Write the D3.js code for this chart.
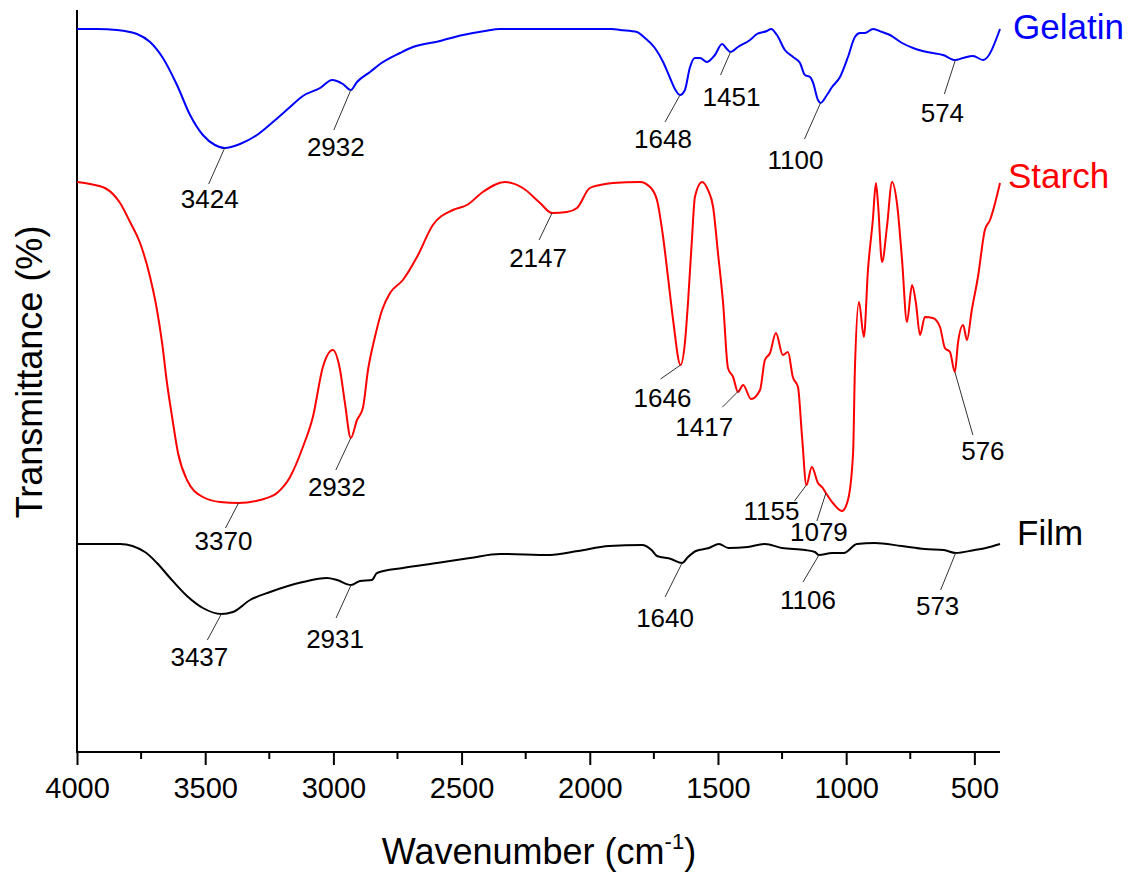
<!DOCTYPE html>
<html>
<head>
<meta charset="utf-8">
<script src="https://d3js.org/d3.v7.min.js"></script>
<style>
  body { margin: 0; background: #fff; }
  text { font-family: "Liberation Sans", Arial, sans-serif; }
</style>
</head>
<body>
<svg id="chart" width="1141" height="872"></svg>
<script>
// spectra: [wavenumber (cm-1), transmittance (offset, a.u.)]
const gelatin = [
  [4000, 72.3], [3922, 72.3], [3844, 72.2], [3766, 71.8], [3715, 71.0], [3665, 69.4],
  [3610, 66.7], [3559, 63.7], [3509, 61.7], [3462, 60.7], [3424, 60.4], [3364, 60.8],
  [3298, 61.7], [3236, 63.0], [3169, 64.5], [3119, 65.6], [3052, 66.4], [3005, 67.2],
  [2963, 66.8], [2932, 66.2], [2908, 67.0], [2857, 68.0], [2818, 68.8], [2740, 69.9],
  [2690, 70.5], [2584, 71.1], [2495, 71.7], [2409, 72.1], [2350, 72.3], [1913, 72.3],
  [1882, 72.2], [1816, 72.0], [1785, 71.4], [1746, 70.4], [1714, 69.0], [1687, 67.4],
  [1668, 66.3], [1648, 65.7], [1629, 66.2], [1610, 68.4], [1590, 69.4], [1570, 69.4],
  [1543, 69.0], [1512, 69.7], [1484, 70.8], [1465, 70.3], [1451, 70.0], [1422, 70.5],
  [1375, 71.2], [1348, 71.8], [1309, 72.1], [1293, 72.3], [1270, 71.7], [1239, 70.2],
  [1207, 69.5], [1180, 68.9], [1161, 67.7], [1141, 67.5], [1130, 67.0], [1110, 65.2],
  [1100, 64.9], [1075, 65.7], [1055, 66.5], [1024, 67.5], [993, 69.5], [966, 71.5],
  [946, 71.9], [927, 71.9], [895, 72.3], [860, 72.0], [829, 71.7], [782, 70.9],
  [739, 70.4], [685, 70.0], [622, 69.7], [574, 69.2], [544, 69.4], [505, 69.6],
  [466, 69.2], [400, 72.3]
];

const starch = [
  [4000, 57.0], [3949, 56.8], [3891, 56.4], [3832, 54.9], [3793, 53.0], [3754, 50.9],
  [3715, 47.5], [3688, 44.2], [3668, 40.9], [3649, 36.9], [3629, 33.5], [3606, 29.9],
  [3571, 27.2], [3509, 25.5], [3442, 25.0], [3370, 24.9], [3286, 25.2], [3220, 25.9],
  [3169, 27.5], [3119, 30.5], [3080, 33.5], [3041, 38.5], [3002, 40.2], [2974, 38.2],
  [2955, 34.9], [2932, 31.4], [2908, 33.2], [2885, 34.4], [2865, 38.2], [2838, 41.5],
  [2810, 44.2], [2779, 45.9], [2729, 47.2], [2674, 49.5], [2612, 52.7], [2534, 54.2],
  [2479, 54.7], [2417, 56.0], [2331, 57.0], [2261, 56.4], [2194, 54.9], [2147, 53.9],
  [2089, 54.0], [2050, 54.4], [2000, 56.4], [1960, 56.7], [1910, 56.9], [1804, 57.0],
  [1765, 56.5], [1738, 55.2], [1714, 51.5], [1695, 47.5], [1675, 43.2], [1646, 38.7],
  [1629, 40.9], [1617, 44.9], [1601, 51.5], [1590, 55.5], [1562, 57.0], [1539, 56.2],
  [1519, 54.5], [1500, 49.9], [1480, 44.9], [1461, 38.4], [1441, 37.5], [1422, 36.0],
  [1402, 36.7], [1371, 35.3], [1336, 36.2], [1317, 39.2], [1297, 39.9], [1274, 41.9],
  [1247, 39.7], [1227, 40.0], [1208, 37.5], [1188, 36.5], [1172, 31.5], [1155, 26.7],
  [1134, 28.5], [1110, 26.9], [1091, 26.4], [1079, 25.9], [1052, 24.9], [1016, 24.1],
  [993, 25.2], [973, 29.9], [966, 38.2], [950, 45.0], [931, 41.5], [915, 48.2],
  [896, 53.2], [884, 56.9], [876, 54.9], [860, 49.0], [841, 52.5], [821, 57.0],
  [802, 54.9], [782, 49.2], [763, 43.0], [743, 46.7], [728, 44.9], [712, 41.7],
  [693, 43.5], [662, 43.4], [634, 42.5], [615, 40.4], [595, 40.0], [576, 38.0],
  [564, 40.9], [544, 42.7], [529, 41.2], [510, 44.2], [486, 47.5], [459, 52.2],
  [439, 53.2], [400, 56.9]
];

const film = [
  [4000, 20.8], [3832, 20.8], [3735, 20.0], [3688, 18.9], [3637, 17.4], [3571, 15.6],
  [3509, 14.4], [3437, 13.8], [3392, 14.0], [3325, 15.2], [3247, 16.0], [3119, 17.0],
  [3025, 17.4], [2986, 17.2], [2931, 16.7], [2896, 17.1], [2850, 17.2], [2830, 17.9],
  [2729, 18.4], [2596, 18.9], [2467, 19.4], [2350, 19.8], [2155, 19.7], [2046, 20.1],
  [1925, 20.6], [1796, 20.7], [1759, 20.2], [1738, 19.6], [1683, 19.3], [1640, 18.9],
  [1617, 19.5], [1586, 20.1], [1535, 20.4], [1496, 20.8], [1459, 20.4], [1384, 20.5],
  [1317, 20.8], [1250, 20.4], [1160, 20.2], [1122, 20.0], [1106, 19.7], [1055, 19.9],
  [1009, 19.9], [958, 20.8], [889, 20.9], [784, 20.6], [694, 20.3], [619, 20.2],
  [573, 19.9], [499, 20.2], [455, 20.4], [400, 20.8]
];

const gelatinPeaks = [3424, 2932, 1648, 1451, 1100, 574];
const starchPeaks = [3370, 2932, 2147, 1646, 1417, 1155, 1079, 576];
const filmPeaks = [3437, 2931, 1640, 1106, 573];

const xTicks = [4000, 3500, 3000, 2500, 2000, 1500, 1000, 500];
const xMinorTicks = [3750, 3250, 2750, 2250, 1750, 1250, 750];

// layout: leader line end [dx, dy] from the peak, text offset [tx, ty] from the line end
const peakLayout = {
  Gelatin: { 3424: [-16, 36, 1, 24], 2932: [-17, 40, 2, 26], 1648: [-15, 27, -2, 26],
             1451: [-10, 23, 11, 31], 1100: [-16, 36, -9, 30], 574: [-11, 34, -2, 28] },
  Starch: { 3370: [-13, 25, -2, 22], 2932: [-15, 32, 1, 26], 2147: [-13, 27, -1, 27],
            1646: [-20, 14, 2, 28], 1417: [-17, 17, -18, 29], 1155: [-12, 16, -23, 19],
            1079: [-9, 28, 2, 20], 576: [18, 63, 10, 25] },
  Film: { 3437: [-14, 26, -8, 26], 2931: [-15, 33, -1, 30], 1640: [-17, 34, 0, 30],
          1106: [-16, 27, 5, 27], 573: [-15, 37, -3, 25] }
};

const series = [
  { name: 'Gelatin', data: gelatin, peaks: gelatinPeaks, color: '#0000ff', label: [13, 10] },
  { name: 'Starch', data: starch, peaks: starchPeaks, color: '#ff0000', label: [8, 5] },
  { name: 'Film', data: film, peaks: filmPeaks, color: '#000000', label: [17, 1] }
];

const svg = d3.select('#chart');
const x = d3.scaleLinear().domain([4000, 400]).range([77, 1000]);
const y = d3.scaleLinear().domain([0, 74.2]).range([752, 10]);

function valueAt(data, wn) {
  for (let i = 0; i < data.length - 1; i++) {
    const a = data[i], b = data[i + 1];
    if (wn <= a[0] && wn >= b[0]) {
      const t = (a[0] - wn) / (a[0] - b[0]);
      return a[1] + t * (b[1] - a[1]);
    }
  }
  return data[data.length - 1][1];
}

const line = d3.line()
  .x(d => x(d[0]))
  .y(d => y(d[1]))
  .curve(d3.curveMonotoneX);

// axes
const xAxis = svg.append('g').attr('transform', 'translate(0,752)');
xAxis.call(d3.axisBottom(x).tickValues(xTicks).tickFormat(d3.format('d'))
  .tickSize(13).tickSizeOuter(0).tickPadding(12));
xAxis.select('.domain').attr('stroke-width', 2).attr('d', `M${x(4000) - 1},0H${x(400)}`);
xAxis.selectAll('.tick line').attr('stroke-width', 2);
xAxis.selectAll('.tick text')
  .style('font-size', '29px')
  .attr('fill', '#000')
  .attr('dy', '0.71em');

svg.append('g')
  .attr('transform', 'translate(0,752)')
  .selectAll('line')
  .data(xMinorTicks)
  .join('line')
  .attr('x1', d => x(d))
  .attr('x2', d => x(d))
  .attr('y1', 0)
  .attr('y2', 7)
  .attr('stroke', '#000')
  .attr('stroke-width', 2);

svg.append('line')
  .attr('x1', x(4000))
  .attr('x2', x(4000))
  .attr('y1', y(74.2))
  .attr('y2', y(0) + 1)
  .attr('stroke', '#000')
  .attr('stroke-width', 2);

// spectra
series.forEach(s => {
  svg.append('path')
    .datum(s.data)
    .attr('d', line)
    .attr('fill', 'none')
    .attr('stroke', s.color)
    .attr('stroke-width', 2)
    .attr('stroke-linejoin', 'round');

  const last = s.data[s.data.length - 1];
  svg.append('text')
    .attr('x', x(last[0]) + s.label[0])
    .attr('y', y(last[1]) + s.label[1])
    .style('font-size', '35px')
    .attr('fill', s.color)
    .text(s.name);

  const g = svg.append('g');
  s.peaks.forEach(p => {
    const px = x(p);
    const py = y(valueAt(s.data, p));
    const [dx, dy, tx, ty] = peakLayout[s.name][p];
    g.append('line')
      .attr('x1', px)
      .attr('y1', py)
      .attr('x2', px + dx)
      .attr('y2', py + dy)
      .attr('stroke', '#333')
      .attr('stroke-width', 1);
    g.append('text')
      .attr('x', px + dx + tx)
      .attr('y', py + dy + ty)
      .attr('text-anchor', 'middle')
      .style('font-size', '26px')
      .attr('fill', '#000')
      .text(p);
  });
});

// axis titles
const xTitle = svg.append('text')
  .attr('x', 539)
  .attr('y', 864)
  .attr('text-anchor', 'middle')
  .style('font-size', '36px')
  .attr('fill', '#000');
xTitle.append('tspan').text('Wavenumber (cm');
xTitle.append('tspan').attr('dy', -15).style('font-size', '22px').text('-1');
xTitle.append('tspan').attr('dy', 15).text(')');

svg.append('text')
  .attr('transform', 'translate(42,372) rotate(-90)')
  .attr('text-anchor', 'middle')
  .style('font-size', '36px')
  .attr('fill', '#000')
  .text('Transmittance (%)');
</script>
</body>
</html>
